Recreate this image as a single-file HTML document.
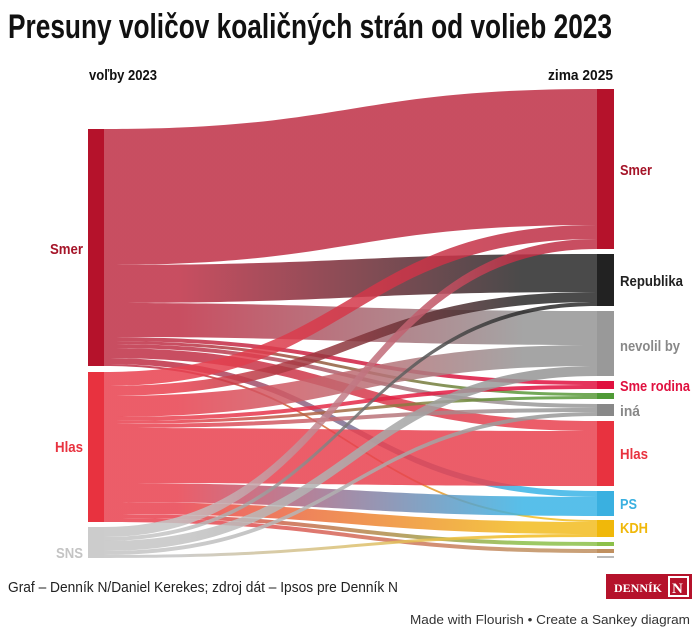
<!DOCTYPE html>
<html><head><meta charset="utf-8"><style>
html,body{margin:0;padding:0;background:#fff;width:698px;height:636px;overflow:hidden}
svg text{font-family:"Liberation Sans Narrow","Liberation Sans",sans-serif;font-weight:bold}
</style></head><body>
<svg id="s" width="698" height="636" xmlns="http://www.w3.org/2000/svg">
<defs id="d"></defs>
<g id="flows"></g>
<g id="nodes"></g>
<text x="8" y="38" font-size="34" textLength="604" lengthAdjust="spacingAndGlyphs" fill="#111">Presuny voličov koaličných strán od volieb 2023</text>
<text x="89" y="80" font-size="15" textLength="68" lengthAdjust="spacingAndGlyphs" fill="#111">voľby 2023</text>
<text x="548" y="80" font-size="15" textLength="65" lengthAdjust="spacingAndGlyphs" fill="#111">zima 2025</text>
<text x="50" y="254" font-size="15" textLength="33" lengthAdjust="spacingAndGlyphs" fill="#a51428">Smer</text>
<text x="55" y="452" font-size="15" textLength="28" lengthAdjust="spacingAndGlyphs" fill="#e8323f">Hlas</text>
<text x="56" y="558" font-size="15" textLength="27" lengthAdjust="spacingAndGlyphs" fill="#c4c4c4">SNS</text>
<text x="620" y="175" font-size="15" textLength="32" lengthAdjust="spacingAndGlyphs" fill="#a51428">Smer</text>
<text x="620" y="286" font-size="15" textLength="63" lengthAdjust="spacingAndGlyphs" fill="#222">Republika</text>
<text x="620" y="351" font-size="15" textLength="60" lengthAdjust="spacingAndGlyphs" fill="#888">nevolil by</text>
<text x="620" y="391" font-size="15" textLength="70" lengthAdjust="spacingAndGlyphs" fill="#e0103f">Sme rodina</text>
<text x="620" y="416" font-size="15" textLength="20" lengthAdjust="spacingAndGlyphs" fill="#888">iná</text>
<text x="620" y="459" font-size="15" textLength="28" lengthAdjust="spacingAndGlyphs" fill="#e8323f">Hlas</text>
<text x="620" y="509" font-size="15" textLength="17" lengthAdjust="spacingAndGlyphs" fill="#3ab0e0">PS</text>
<text x="620" y="533" font-size="15" textLength="28" lengthAdjust="spacingAndGlyphs" fill="#f0b80a">KDH</text>
<text x="8" y="592" font-size="15" style="font-weight:normal" textLength="390" lengthAdjust="spacingAndGlyphs" fill="#222">Graf – Denník N/Daniel Kerekes; zdroj dát – Ipsos pre Denník N</text>
<rect x="606" y="574" width="86" height="25" fill="#b5122b"/>
<text x="614" y="592" font-size="12" fill="#fff" style="font-family:'Liberation Serif',serif">DENNÍK</text>
<rect x="669" y="577" width="19" height="19" fill="none" stroke="#fff" stroke-width="2"/>
<text x="672" y="593" font-size="15" fill="#fff" style="font-family:'Liberation Serif',serif">N</text>
<text x="410" y="624" font-size="13" textLength="280" lengthAdjust="spacingAndGlyphs" style="font-weight:normal;font-family:'Liberation Sans',sans-serif" fill="#333">Made with Flourish • Create a Sankey diagram</text>
</svg>
<script>
var NS="http://www.w3.org/2000/svg";
var L={Smer:{y:129,c:"#b5122b",f:"#bf2f45"},Hlas:{y:372,c:"#e8323f",f:"#e8414f"},SNS:{y:527,c:"#cccccc",f:"#c4c4c4"}};
var R={Smer:{y:89,h:160,c:"#b5122b",f:"#bf2f45"},Rep:{y:254,h:52,c:"#222",f:"#2a2a2a"},Nev:{y:311,h:65,c:"#999",f:"#959595"},SR:{y:381,h:8,c:"#e0103f",f:"#e0103f"},Gr:{y:393,h:6,c:"#4f9a36",f:"#5a9a3a"},Ina:{y:404,h:12,c:"#888",f:"#999"},Hlas:{y:421,h:65,c:"#e8323f",f:"#e8414f"},PS:{y:491,h:25,c:"#3ab0e0",f:"#3ab4e6"},KDH:{y:520,h:17,c:"#f0b80a",f:"#f2bc20"},G2:{y:542,h:4,c:"#8cc04a",f:"#8cc04a"},Br:{y:549,h:4,c:"#c09060",f:"#c09060"},Gt:{y:556,h:2,c:"#bbb",f:"#bbb"}};
var flows={Smer:[["Smer",136],["Rep",38],["Nev",34],["SR",4],["Gr",3],["Ina",4],["Hlas",10],["PS",6],["KDH",2]],
Hlas:[["Smer",14],["Rep",10],["Nev",21],["SR",4],["Gr",3],["Ina",4],["Hlas",55],["PS",19],["KDH",12],["G2",4],["Br",4]],
SNS:[["Smer",10],["Rep",4],["Nev",10],["Ina",4],["KDH",3]]};
var rOff={};for(var k in R)rOff[k]=R[k].y;
var defs=document.getElementById("d"),fg=document.getElementById("flows"),ng=document.getElementById("nodes");
var x0=104,x1=597,m=(x0+x1)/2,i=0;
["Smer","Hlas","SNS"].forEach(function(s){
 var y=L[s].y;
 flows[s].forEach(function(f){
  var t=f[0],h=f[1],ya=y,yb=rOff[t];y+=h;rOff[t]+=h;
  var g=document.createElementNS(NS,"linearGradient");g.id="g"+i;
  g.setAttribute("gradientUnits","userSpaceOnUse");g.setAttribute("x1",x0);g.setAttribute("x2",x1);g.setAttribute("y1",0);g.setAttribute("y2",0);
  g.innerHTML='<stop offset="0.15" stop-color="'+L[s].f+'"/><stop offset="0.85" stop-color="'+R[t].f+'"/>';
  defs.appendChild(g);
  var p=document.createElementNS(NS,"path");
  p.setAttribute("d","M"+x0+","+ya+"C"+m+","+ya+" "+m+","+yb+" "+x1+","+yb+"L"+x1+","+(yb+h)+"C"+m+","+(yb+h)+" "+m+","+(ya+h)+" "+x0+","+(ya+h)+"Z");
  p.setAttribute("fill","url(#g"+i+")");p.setAttribute("fill-opacity","0.85");
  fg.appendChild(p);i++;
 });
});
function rect(x,y,w,h,c){var r=document.createElementNS(NS,"rect");r.setAttribute("x",x);r.setAttribute("y",y);r.setAttribute("width",w);r.setAttribute("height",h);r.setAttribute("fill",c);ng.appendChild(r);}
rect(88,129,16,237,L.Smer.c);rect(88,372,16,150,L.Hlas.c);rect(88,527,16,31,L.SNS.c);
for(var k in R)rect(597,R[k].y,17,R[k].h,R[k].c);
</script>
</body></html>
